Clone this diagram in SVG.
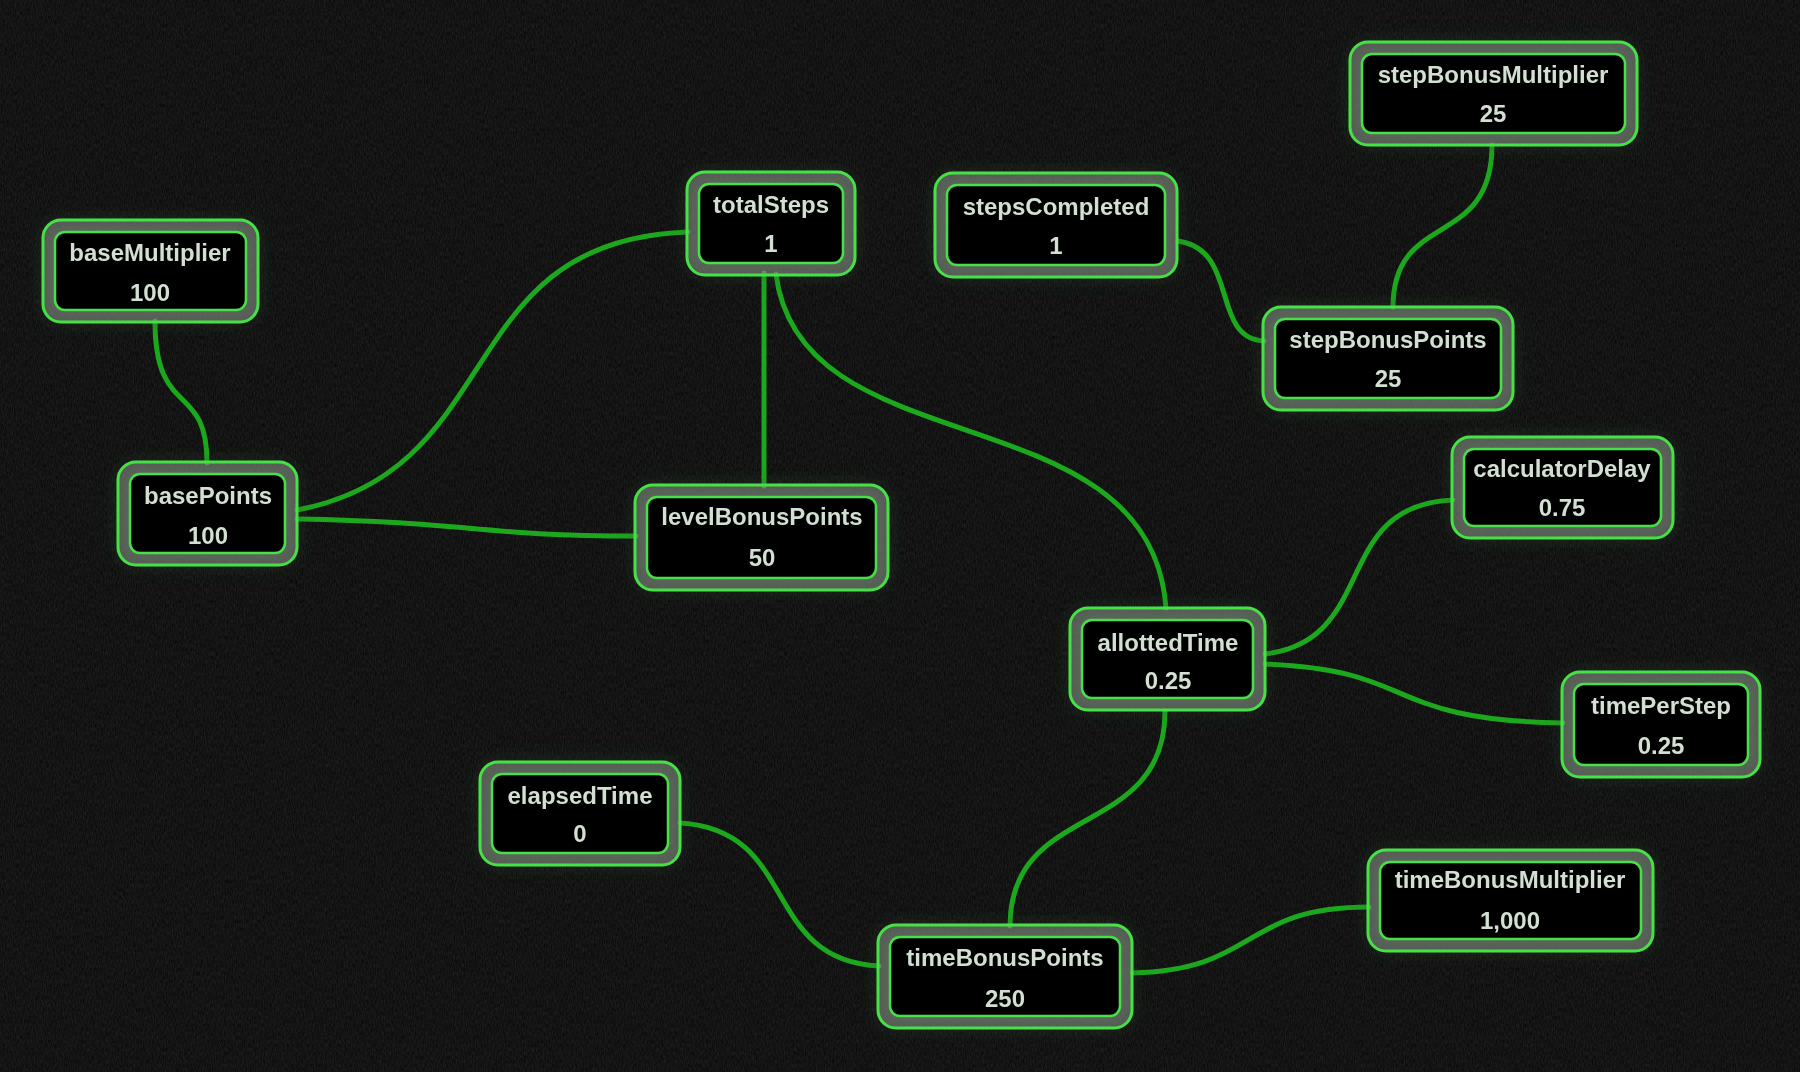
<svg xmlns="http://www.w3.org/2000/svg" width="1800" height="1072" viewBox="0 0 1800 1072">
<defs>
<filter id="noise" x="0" y="0" width="100%" height="100%">
<feTurbulence type="fractalNoise" baseFrequency="0.9 0.25" numOctaves="2" seed="3" result="n"/>
<feColorMatrix in="n" type="matrix" values="0 0 0 0 0.1  0 0 0 0 0.1  0 0 0 0 0.1  0 0 0 0.35 0"/>
</filter>
<filter id="glow" x="-20%" y="-30%" width="140%" height="160%">
<feGaussianBlur in="SourceAlpha" stdDeviation="9" result="b"/>
<feFlood flood-color="#2f4a2f" flood-opacity="0.55"/>
<feComposite in2="b" operator="in" result="g"/>
<feMerge><feMergeNode in="g"/><feMergeNode in="SourceGraphic"/></feMerge>
</filter>
<style>
.outer{fill:#8a968a;fill-opacity:0.5;stroke:#46e046;stroke-width:3}
.inner{fill:#030303;stroke:#46e046;stroke-width:2.5}
.lbl{font-family:"Liberation Sans",Arial,sans-serif;font-weight:bold;font-size:24px;fill:#d2dfd2;text-anchor:middle;dominant-baseline:central}
.edge{fill:none;stroke:#1ca81c;stroke-width:5;stroke-linecap:round}
</style>
</defs>
<rect width="1800" height="1072" fill="#050505"/>
<rect width="1800" height="1072" filter="url(#noise)"/>
<g id="connectors">
<path class="edge" d="M155,321 C155,420 207,380 207,463"/>
<path class="edge" d="M297,510 C510,470 450,240 688,232"/>
<path class="edge" d="M297,519 C470,522 480,536 636,536"/>
<path class="edge" d="M764,273 L764,486"/>
<path class="edge" d="M776,274 C800,470 1150,390 1166,608"/>
<path class="edge" d="M1178,241 C1240,250 1210,338 1264,341"/>
<path class="edge" d="M1492,145 C1492,250 1393,210 1393,307"/>
<path class="edge" d="M1265,654 C1380,640 1330,505 1453,500"/>
<path class="edge" d="M1265,664 C1420,670 1380,720 1563,723"/>
<path class="edge" d="M1165,711 C1165,840 1010,800 1010,926"/>
<path class="edge" d="M680,823 C800,830 760,960 879,966"/>
<path class="edge" d="M1132,973 C1260,970 1240,907 1369,907"/>
</g>
<g id="baseMultiplier" filter="url(#glow)">
<rect class="outer" x="43" y="220" width="215" height="102" rx="18"/>
<rect class="inner" x="55" y="232" width="191" height="78" rx="10"/>
<text class="lbl" x="150" y="252">baseMultiplier</text>
<text class="lbl" x="150" y="292">100</text>
</g>
<g id="totalSteps" filter="url(#glow)">
<rect class="outer" x="687" y="172" width="168" height="103" rx="18"/>
<rect class="inner" x="699" y="184" width="144" height="79" rx="10"/>
<text class="lbl" x="771" y="204">totalSteps</text>
<text class="lbl" x="771" y="243">1</text>
</g>
<g id="stepsCompleted" filter="url(#glow)">
<rect class="outer" x="935" y="173" width="242" height="104" rx="18"/>
<rect class="inner" x="947" y="185" width="218" height="80" rx="10"/>
<text class="lbl" x="1056" y="206">stepsCompleted</text>
<text class="lbl" x="1056" y="245">1</text>
</g>
<g id="stepBonusMultiplier" filter="url(#glow)">
<rect class="outer" x="1350" y="42" width="287" height="103" rx="18"/>
<rect class="inner" x="1362" y="54" width="263" height="79" rx="10"/>
<text class="lbl" x="1493" y="74">stepBonusMultiplier</text>
<text class="lbl" x="1493" y="113">25</text>
</g>
<g id="stepBonusPoints" filter="url(#glow)">
<rect class="outer" x="1263" y="307" width="250" height="103" rx="18"/>
<rect class="inner" x="1275" y="319" width="226" height="79" rx="10"/>
<text class="lbl" x="1388" y="339">stepBonusPoints</text>
<text class="lbl" x="1388" y="378">25</text>
</g>
<g id="basePoints" filter="url(#glow)">
<rect class="outer" x="118" y="462" width="179" height="103" rx="18"/>
<rect class="inner" x="130" y="474" width="155" height="79" rx="10"/>
<text class="lbl" x="208" y="495">basePoints</text>
<text class="lbl" x="208" y="535">100</text>
</g>
<g id="levelBonusPoints" filter="url(#glow)">
<rect class="outer" x="635" y="485" width="253" height="105" rx="18"/>
<rect class="inner" x="647" y="497" width="229" height="81" rx="10"/>
<text class="lbl" x="762" y="516">levelBonusPoints</text>
<text class="lbl" x="762" y="557">50</text>
</g>
<g id="allottedTime" filter="url(#glow)">
<rect class="outer" x="1070" y="608" width="195" height="102" rx="18"/>
<rect class="inner" x="1082" y="620" width="171" height="78" rx="10"/>
<text class="lbl" x="1168" y="642">allottedTime</text>
<text class="lbl" x="1168" y="680">0.25</text>
</g>
<g id="calculatorDelay" filter="url(#glow)">
<rect class="outer" x="1452" y="437" width="221" height="101" rx="18"/>
<rect class="inner" x="1464" y="449" width="197" height="77" rx="10"/>
<text class="lbl" x="1562" y="468">calculatorDelay</text>
<text class="lbl" x="1562" y="507">0.75</text>
</g>
<g id="timePerStep" filter="url(#glow)">
<rect class="outer" x="1562" y="672" width="198" height="105" rx="18"/>
<rect class="inner" x="1574" y="684" width="174" height="81" rx="10"/>
<text class="lbl" x="1661" y="705">timePerStep</text>
<text class="lbl" x="1661" y="745">0.25</text>
</g>
<g id="elapsedTime" filter="url(#glow)">
<rect class="outer" x="480" y="762" width="200" height="103" rx="18"/>
<rect class="inner" x="492" y="774" width="176" height="79" rx="10"/>
<text class="lbl" x="580" y="795">elapsedTime</text>
<text class="lbl" x="580" y="833">0</text>
</g>
<g id="timeBonusPoints" filter="url(#glow)">
<rect class="outer" x="878" y="925" width="254" height="103" rx="18"/>
<rect class="inner" x="890" y="937" width="230" height="79" rx="10"/>
<text class="lbl" x="1005" y="957">timeBonusPoints</text>
<text class="lbl" x="1005" y="998">250</text>
</g>
<g id="timeBonusMultiplier" filter="url(#glow)">
<rect class="outer" x="1368" y="850" width="285" height="101" rx="18"/>
<rect class="inner" x="1380" y="862" width="261" height="77" rx="10"/>
<text class="lbl" x="1510" y="879">timeBonusMultiplier</text>
<text class="lbl" x="1510" y="920">1,000</text>
</g>
</svg>
